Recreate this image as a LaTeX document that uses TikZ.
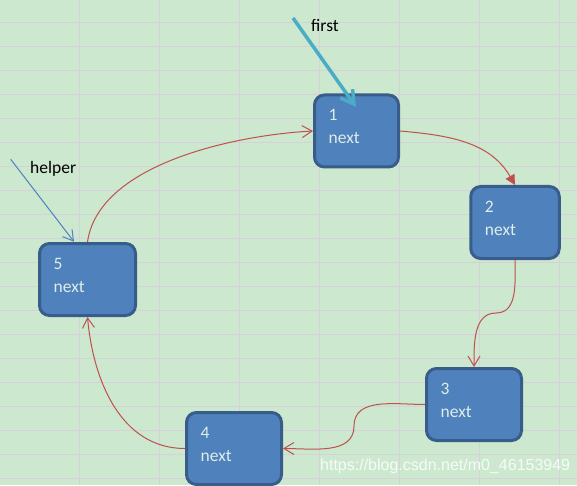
\documentclass[tikz,border=0pt]{standalone}
\usepackage{fontspec}
\setmainfont{Carlito}
\newfontfamily\urlfont{Liberation Sans}
\usetikzlibrary{arrows.meta}
\definecolor{nen}{HTML}{CCE8CF}
\definecolor{luoi}{HTML}{D5D1D6}
\definecolor{onut}{HTML}{4F81BD}
\definecolor{vien}{HTML}{385D8A}
\definecolor{chu}{HTML}{DDEEE6}
\definecolor{do}{HTML}{C0504D}
\definecolor{xanh}{HTML}{4BACC6}
\begin{document}
\begin{tikzpicture}[x=1pt,y=1pt,
	oNut/.style={draw=vien,fill=onut,line width=3pt,rounded corners=10pt,minimum height=72pt,inner sep=0pt},
	chuNut/.style={anchor=base west,text=chu,inner sep=0pt,font=\fontsize{17.5}{20}\selectfont},
	nhan/.style={anchor=base west,inner sep=0pt,font=\fontsize{17.5}{20}\selectfont},
	noiDo/.style={draw=do,line width=1pt,-{Straight Barb[length=10pt,width=12pt]}}]
	% Nền và lưới ô
	\fill[nen] (0,0) rectangle (577,485);
	\useasboundingbox (0,0) rectangle (577,485);
	\foreach \x in {79.5,159.5,...,559.5}
	\draw[luoi,line width=1pt] (\x,0)--(\x,485);
	\foreach \y in {6.5,30.5,...,462.5}
	\draw[luoi,line width=1pt] (0,\y)--(577,\y);
	% Các nút của danh sách vòng
	\foreach \i/\x/\y/\w in {1/356.5/354/84,2/515/262.5/88.5,3/474/80.5/95,4/234/36.5/95,5/87.5/205.5/96}{
	\node[oNut,minimum width=\w pt] (b\i) at (\x,\y) {};
	\node[chuNut] (so\i) at ([shift={(15.5,-27.5)}]b\i.north west) {\i};
	\node[chuNut] (nx\i) at ([shift={(15.5,-50)}]b\i.north west) {next};
	}
	% Con trỏ first
	\coordinate (f0) at (293,467);
	\coordinate (f1) at (356,378);
	\draw[xanh,line width=3.5pt,-{Straight Barb[length=13pt,width=15pt]}] (f0)--(f1);
	\node[nhan] (first) at (311,453.3) {first};
	% Con trỏ helper
	\coordinate (h0) at (10.7,325.7);
	\coordinate (h1) at (74,243.3);
	\draw[onut,line width=1pt,-{Straight Barb[length=10pt,width=12pt]}] (h0)--(h1);
	\node[nhan] (helper) at (30,311.7) {helper};
	% Các mũi tên next
	\draw[noiDo,-{Triangle[length=10pt,width=10pt]}] (b1.east) to[out=-5,in=120] (b2.north);
	\coordinate (k23) at (496,172);
	\draw[noiDo] (b2.south) to[out=-90,in=0] (k23) to[out=180,in=90] (b3.north);
	\coordinate (k34) at (354,59);
	\draw[noiDo] (b3.west) to[out=180,in=90] (k34) to[out=-90,in=0] (b4.east);
	\draw[noiDo] (b4.west) to[out=180,in=-85] (b5.south);
	\draw[noiDo] (b5.north) to[out=82,in=183,looseness=.8] (b1.west);
	% Dấu nước
	\node[anchor=base west,inner sep=0pt,text=white,opacity=.85,font=\urlfont\fontsize{16}{18}\selectfont] (wm) at (320,14.3) {https://blog.csdn.net/m0\_46153949};
\end{tikzpicture}
\end{document}
